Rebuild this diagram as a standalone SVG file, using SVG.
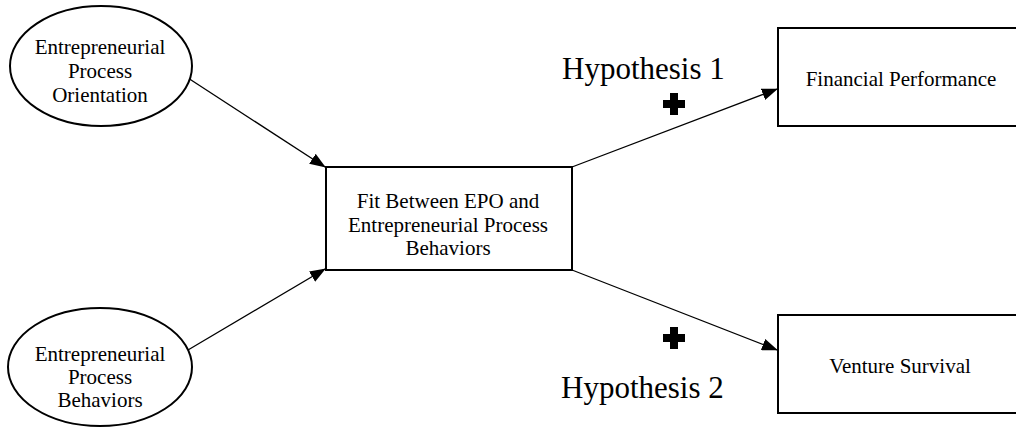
<svg xmlns="http://www.w3.org/2000/svg" width="1016" height="428" viewBox="0 0 1016 428">
<style>
.shape{fill:#fff;stroke:#000;stroke-width:2}
.lbl{font-family:"Liberation Serif","Times New Roman",serif;font-size:21px;fill:#000;text-anchor:middle}
.hyp{font-family:"Liberation Serif","Times New Roman",serif;font-size:31px;fill:#000}
.conn{stroke:#000;stroke-width:1.3;fill:none}
</style>
<defs>
<marker id="arr" markerWidth="16" markerHeight="12" refX="15" refY="6" orient="auto" markerUnits="userSpaceOnUse">
<path d="M0,0 L16,6 L0,12 Z" fill="#000"/>
</marker>
</defs>
<rect width="1016" height="428" fill="#fff"/>
<g id="connectors">
<line class="conn" x1="188" y1="78" x2="325" y2="167" marker-end="url(#arr)"/>
<line class="conn" x1="188" y1="350" x2="325" y2="269" marker-end="url(#arr)"/>
<line class="conn" x1="572" y1="167" x2="777" y2="89" marker-end="url(#arr)"/>
<line class="conn" x1="572" y1="270" x2="777" y2="350" marker-end="url(#arr)"/>
</g>
<g id="epo">
<ellipse class="shape" cx="101" cy="66" rx="91" ry="60"/>
<text class="lbl" x="100" y="54">Entrepreneurial</text>
<text class="lbl" x="100" y="78">Process</text>
<text class="lbl" x="100" y="102">Orientation</text>
</g>
<g id="epb">
<ellipse class="shape" cx="100" cy="367" rx="92" ry="59"/>
<text class="lbl" x="100" y="361">Entrepreneurial</text>
<text class="lbl" x="100" y="384">Process</text>
<text class="lbl" x="100" y="407">Behaviors</text>
</g>
<g id="fit">
<rect class="shape" x="326" y="167" width="246" height="103"/>
<text class="lbl" x="448" y="208">Fit Between EPO and</text>
<text class="lbl" x="448" y="232">Entrepreneurial Process</text>
<text class="lbl" x="448" y="255">Behaviors</text>
</g>
<g id="financial">
<rect class="shape" x="778" y="28" width="248" height="98"/>
<text class="lbl" x="901" y="86">Financial Performance</text>
</g>
<g id="survival">
<rect class="shape" x="778" y="315" width="248" height="98"/>
<text class="lbl" x="900" y="373">Venture Survival</text>
</g>
<g id="hypothesis1">
<text class="hyp" x="562" y="79">Hypothesis 1</text>
<path d="M670,93 h8 v7 h7 v8 h-7 v7 h-8 v-7 h-7 v-8 h7 Z" fill="#000"/>
</g>
<g id="hypothesis2">
<text class="hyp" x="561" y="398">Hypothesis 2</text>
<path d="M670,327 h8 v7 h7 v8 h-7 v7 h-8 v-7 h-7 v-8 h7 Z" fill="#000"/>
</g>
</svg>
